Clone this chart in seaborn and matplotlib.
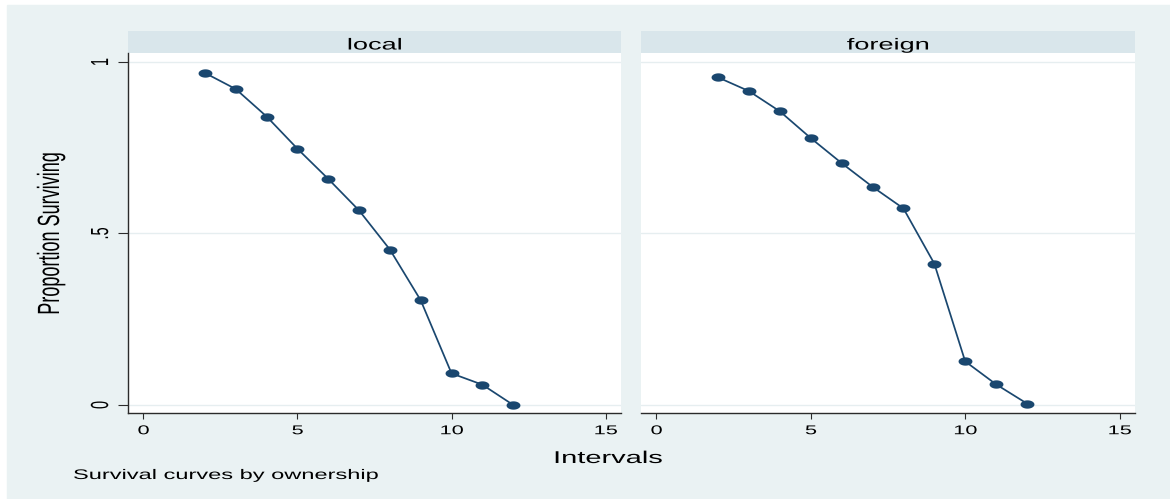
import numpy as np
import pandas as pd
import matplotlib
matplotlib.use("Agg")
import matplotlib.pyplot as plt
import matplotlib.patheffects as pe
from matplotlib.path import Path
from matplotlib.markers import MarkerStyle
from matplotlib.patches import Rectangle
from matplotlib.transforms import Affine2D
import seaborn as sns

# ================================
# Data
# ================================
intervals = [2, 3, 4, 5, 6, 7, 8, 9, 10, 11, 12]
local_surv = [0.968, 0.921, 0.841, 0.747, 0.659, 0.567, 0.453, 0.305, 0.092, 0.059, 0.0]
foreign_surv = [0.955, 0.915, 0.856, 0.778, 0.705, 0.636, 0.573, 0.412, 0.127, 0.060, 0.004]
panels = ["local", "foreign"]
x_ticks = [0, 5, 10, 15]
y_ticks = [0, 0.5, 1]
y_tick_labels = ["0", ".5", "1"]

df = pd.DataFrame({
    "Intervals": intervals * 2,
    "Surviving": local_surv + foreign_surv,
    "ownership": ["local"] * len(intervals) + ["foreign"] * len(intervals),
})

STATA_BLUE = "#1A476F"
BG = "#EAF2F3"
STRIP = "#D9E6EB"
GRID = "#E6EEF0"
INK = "#000000"
AXIS = "#2b2b2b"

W, H = 1170, 499


class Stretch(pe.AbstractPathEffect):
    # the stata graph was squashed into a wide png, so letters look wide
    def __init__(self, sx=1.0, sy=1.0, centered=True):
        super().__init__()
        self.sx = sx
        self.sy = sy
        self.centered = centered

    def draw_path(self, renderer, gc, tpath, affine, rgbFace=None):
        w = tpath.get_extents().x1 if self.centered else 0.0
        pre = Affine2D().translate(-w / 2, 0).scale(self.sx, self.sy).translate(w / 2, 0)
        renderer.draw_path(gc, tpath, pre + affine, rgbFace)


wide = [Stretch(1.7, 1.0)]
wide_left = [Stretch(1.7, 1.0, centered=False)]
tall = [Stretch(1.0, 1.7)]

# squashed circle marker
t = np.linspace(0, 2 * np.pi, 41)
ellipse = Path(np.column_stack([np.cos(t), 0.6 * np.sin(t)]), closed=True)

# ================================
# Plot
# ================================
sns.set_style("white")
plt.rcParams["font.family"] = ["Liberation Sans", "DejaVu Sans"]

g = sns.FacetGrid(df, col="ownership", col_order=panels, sharey=True, despine=False)
g.map_dataframe(sns.lineplot, x="Intervals", y="Surviving", color=STATA_BLUE,
                lw=1.25, marker=MarkerStyle(ellipse), markersize=10,
                markeredgewidth=0, errorbar=None)
g.set_axis_labels("", "")

fig = g.figure
fig.set_size_inches(W / 100, H / 100)
fig.set_dpi(100)
fig.patch.set_facecolor("white")
fig.add_artist(Rectangle((7 / W, 0), 1 - 7 / W, 1 - 5 / H, transform=fig.transFigure,
                         color=BG, zorder=-10))

positions = [
    [128 / W, 1 - 413 / H, 493 / W, 360 / H],
    [641 / W, 1 - 413 / H, 494 / W, 360 / H],
]

for ax, name, pos in zip(g.axes.flat, panels, positions):
    ax.set_position(pos)
    ax.set_title("")
    ax.set_facecolor("white")
    ax.set_xlim(-0.5, 15.5)
    ax.set_ylim(-0.0236, 1.0263)
    ax.set_xticks(x_ticks)
    ax.set_xticklabels([str(v) for v in x_ticks])
    ax.set_yticks(y_ticks)
    ax.set_yticklabels(y_tick_labels)
    ax.grid(axis="y", color=GRID, lw=1.0)
    ax.grid(axis="x", visible=False)
    ax.set_axisbelow(True)
    ax.set_xlabel("")
    ax.set_ylabel("")

    for side in ["top", "right"]:
        ax.spines[side].set_visible(False)
    ax.spines["bottom"].set_color(AXIS)
    ax.spines["bottom"].set_linewidth(1.0)
    ax.spines["left"].set_color(AXIS)
    ax.spines["left"].set_linewidth(1.0)

    ax.tick_params(axis="x", bottom=True, length=4.3, width=0.8, color=AXIS,
                   pad=4.5, labelsize=9.2, labelcolor=INK)
    ax.tick_params(axis="y", left=True, length=7.2, width=0.8, color=AXIS,
                   pad=5.0, labelsize=10.5, labelcolor=INK, labelrotation=90)
    for lab in ax.get_xticklabels():
        lab.set_path_effects(wide)
    for lab in ax.get_yticklabels():
        lab.set_path_effects(tall)
        lab.set_va("center")

    # strip on top of each panel
    ax.add_patch(Rectangle((0, 1), 1, 22 / 360, transform=ax.transAxes,
                           color=STRIP, clip_on=False, lw=0))
    ax.text(0.5, 1 + 3.5 / 360, name, transform=ax.transAxes, ha="center",
            va="baseline", fontsize=11.5, color=INK, path_effects=wide)

right = g.axes.flat[1]
right.spines["left"].set_visible(False)
right.tick_params(axis="y", left=False, labelleft=False)

fig.text(608 / W, 1 - 463 / H, "Intervals", ha="center", va="baseline",
         fontsize=12.3, color=INK, path_effects=wide)
fig.text(59 / W, 1 - 233.5 / H, "Proportion Surviving", rotation=90,
         rotation_mode="anchor", ha="center", va="baseline", fontsize=13,
         color=INK, path_effects=tall)
fig.text(73 / W, 1 - 479 / H, "Survival curves by ownership", ha="left",
         va="baseline", fontsize=10, color=INK, path_effects=wide_left)

fig.savefig("out.png", dpi=100, facecolor=fig.get_facecolor())
